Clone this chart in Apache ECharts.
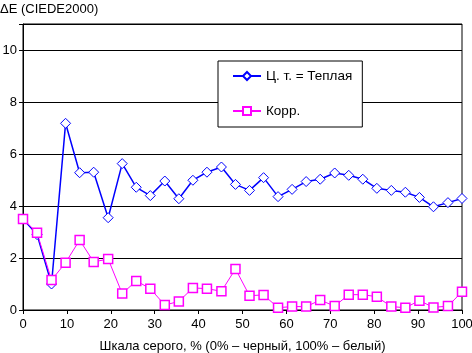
<!DOCTYPE html>
<html>
<head>
<meta charset="utf-8">
<script src="https://cdn.jsdelivr.net/npm/echarts@6/dist/echarts.min.js"></script>
<style>
  html, body { margin: 0; padding: 0; background: #fff; }
  #chart { width: 472px; height: 353px; }
</style>
</head>
<body>
<div id="chart"></div>
<script>
// шкала серого, %
var grayLevels = [0, 3.2, 6.5, 9.7, 12.9, 16.1, 19.4, 22.6, 25.8, 29, 32.3, 35.5, 38.7, 41.9, 45.2, 48.4,
  51.6, 54.8, 58.1, 61.3, 64.5, 67.7, 71, 74.2, 77.4, 80.6, 83.9, 87.1, 90.3, 93.5, 96.8, 100];

// Ц. т. = Теплая
var warmValues = [3.5, 2.9, 1.0, 7.18, 5.28, 5.3, 3.55, 5.63, 4.72, 4.4, 4.96, 4.28, 4.99, 5.3, 5.5, 4.83,
  4.6, 5.09, 4.36, 4.64, 4.94, 5.03, 5.27, 5.18, 5.03, 4.68, 4.6, 4.53, 4.33, 3.97, 4.13, 4.29];

// Корр.
var corrValues = [3.5, 2.97, 1.15, 1.82, 2.69, 1.85, 1.96, 0.63, 1.12, 0.82, 0.19, 0.33, 0.85, 0.82, 0.72, 1.58,
  0.55, 0.58, 0.09, 0.13, 0.13, 0.38, 0.15, 0.59, 0.59, 0.51, 0.13, 0.09, 0.36, 0.1, 0.15, 0.7];

var seriesNames = ['Ц. т. = Теплая', 'Корр.'];

function pairs (xs, ys) {
  return xs.map(function (x, i) { return [x, ys[i]]; });
}

var font = 'Liberation Sans, Arial, sans-serif';
var chart = echarts.init(document.getElementById('chart'));

chart.setOption({
  animation: false,
  textStyle: { fontFamily: font, color: '#000' },
  grid: {
    left: 23, right: 10, top: 24, bottom: 43,
    containLabel: false,
    outerBoundsMode: 'none',
    show: true, borderColor: '#000', borderWidth: 1
  },
  legend: {
    orient: 'vertical',
    left: 218, top: 61,
    padding: [7, 10, 8, 14],
    itemGap: 19,
    itemWidth: 28, itemHeight: 10,
    backgroundColor: '#fff',
    borderColor: '#000', borderWidth: 1,
    textStyle: { fontFamily: font, fontSize: 13.5, color: '#000', lineHeight: 16 },
    data: seriesNames
  },
  xAxis: {
    type: 'value',
    min: 0, max: 100, interval: 10,
    name: 'Шкала серого, % (0% – черный, 100% – белый)',
    nameLocation: 'middle',
    nameGap: 30,
    nameTextStyle: { fontFamily: font, fontSize: 13, color: '#000' },
    axisLine: { lineStyle: { color: '#000' } },
    axisTick: { show: true, length: 4, lineStyle: { color: '#000' } },
    axisLabel: { fontSize: 13, color: '#000', margin: 8 },
    splitLine: { show: false }
  },
  yAxis: {
    type: 'value',
    min: 0, max: 11, interval: 2,
    name: 'ΔE (CIEDE2000)',
    nameLocation: 'end',
    nameGap: 8,
    nameTextStyle: { fontFamily: font, fontSize: 13, color: '#000', align: 'left', padding: [0, 0, 0, -23] },
    axisLine: { show: true, lineStyle: { color: '#000' } },
    axisTick: { show: true, length: 4, lineStyle: { color: '#000' } },
    axisLabel: {
      fontSize: 13, color: '#000', margin: 6,
      formatter: function (v) { return v > 10 ? '' : v; }
    },
    splitLine: { show: true, lineStyle: { color: '#000', width: 1 } }
  },
  series: [
    {
      name: seriesNames[0],
      type: 'line',
      data: pairs(grayLevels, warmValues),
      symbol: 'diamond',
      symbolSize: 10,
      showAllSymbol: true,
      lineStyle: { color: '#0000ff', width: 1.5 },
      itemStyle: { color: '#fff', borderColor: '#0000ff', borderWidth: 1 }
    },
    {
      name: seriesNames[1],
      type: 'line',
      data: pairs(grayLevels, corrValues),
      symbol: 'rect',
      symbolSize: 9,
      showAllSymbol: true,
      lineStyle: { color: '#ff00ff', width: 1 },
      itemStyle: { color: '#fff', borderColor: '#ff00ff', borderWidth: 1.5 }
    }
  ]
});
</script>
</body>
</html>
